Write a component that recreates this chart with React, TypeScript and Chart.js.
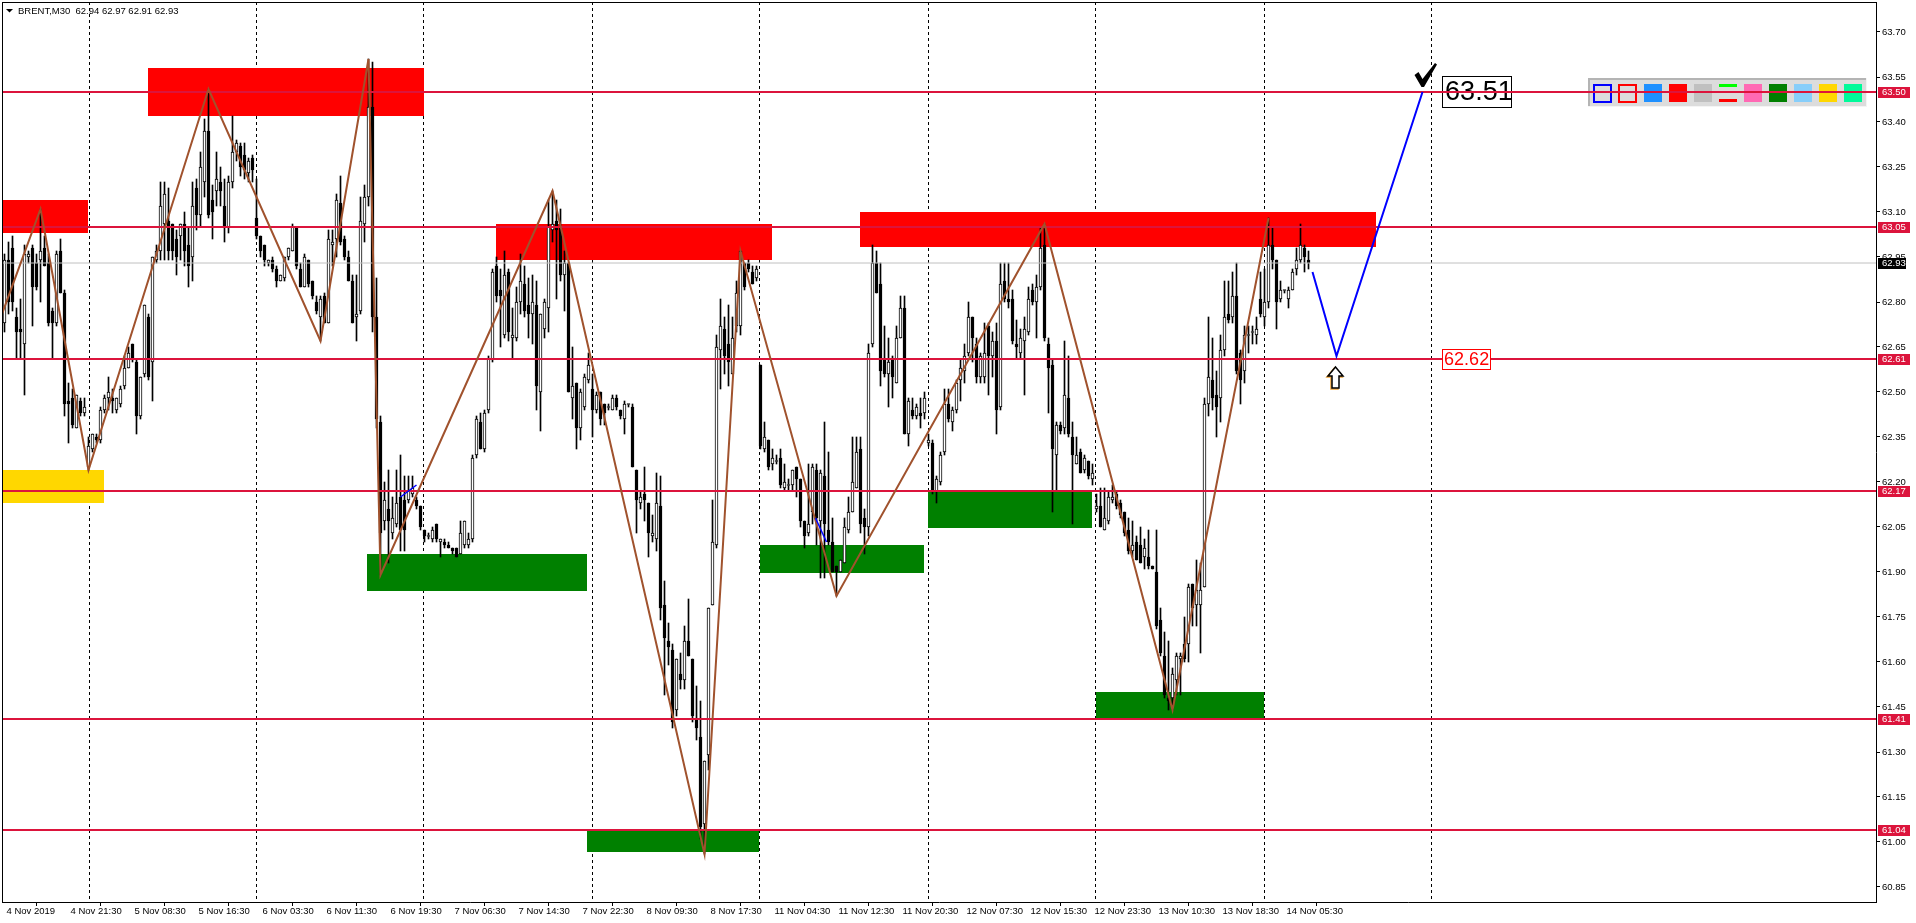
import React, { useEffect, useRef } from "react";
import { Chart, registerables } from "chart.js";
Chart.register(...registerables);

// ---- candles: [open, high, low, close] (BRENT M30) ----
const candlesA: number[][] = [
  [62.73, 62.96, 62.70, 62.94], [62.94, 63.00, 62.76, 62.80], [62.98, 63.02, 62.77, 62.80], [62.75, 62.78, 62.61, 62.70],
  [62.71, 62.81, 62.61, 62.70], [62.66, 62.99, 62.49, 62.96], [62.95, 62.97, 62.93, 62.96], [62.98, 62.99, 62.72, 62.85],
  [62.93, 62.96, 62.84, 62.85], [62.94, 63.11, 62.80, 62.97], [62.98, 63.02, 62.92, 62.92], [62.93, 62.96, 62.72, 62.73],
  [62.77, 62.78, 62.61, 62.73], [62.73, 62.97, 62.72, 62.96], [62.97, 63.01, 62.83, 62.83], [62.83, 62.84, 62.42, 62.46],
  [62.47, 62.53, 62.33, 62.46], [62.48, 62.51, 62.38, 62.39], [62.38, 62.49, 62.38, 62.49], [62.47, 62.48, 62.42, 62.43],
  [62.43, 62.48, 62.42, 62.45], [62.25, 62.35, 62.24, 62.32], [62.31, 62.36, 62.30, 62.36], [62.35, 62.36, 62.33, 62.34],
  [62.34, 62.45, 62.33, 62.44], [62.44, 62.49, 62.43, 62.48], [62.48, 62.55, 62.44, 62.50], [62.48, 62.51, 62.43, 62.47],
  [62.44, 62.48, 62.43, 62.48], [62.46, 62.52, 62.45, 62.51], [62.52, 62.62, 62.51, 62.58], [62.58, 62.65, 62.58, 62.63],
  [62.66, 62.66, 62.60, 62.61], [62.60, 62.61, 62.36, 62.42], [62.42, 62.55, 62.41, 62.55], [62.56, 62.79, 62.55, 62.79],
  [62.75, 62.76, 62.54, 62.55], [62.60, 62.95, 62.47, 62.95], [62.94, 62.99, 62.93, 62.97], [62.97, 63.20, 62.94, 63.12],
  [63.06, 63.20, 62.94, 63.16], [63.07, 63.18, 62.94, 62.97], [63.06, 63.06, 62.94, 62.97], [63.01, 63.04, 62.89, 62.95],
  [63.02, 63.06, 62.94, 63.06], [63.06, 63.10, 62.92, 62.97], [62.99, 63.05, 62.85, 62.92], [62.95, 63.20, 62.87, 63.12],
  [63.18, 63.21, 63.04, 63.09], [63.09, 63.30, 63.05, 63.25], [63.20, 63.41, 63.15, 63.37], [63.37, 63.51, 63.08, 63.09],
  [63.14, 63.19, 63.01, 63.10], [63.17, 63.30, 63.12, 63.21], [63.20, 63.25, 63.12, 63.17], [63.12, 63.21, 63.00, 63.05],
  [63.05, 63.22, 63.03, 63.20], [63.20, 63.42, 63.18, 63.30], [63.30, 63.34, 63.27, 63.33], [63.32, 63.33, 63.22, 63.25],
  [63.29, 63.33, 63.21, 63.24], [63.23, 63.28, 63.20, 63.27], [63.28, 63.29, 63.20, 63.24],
];
const candlesB: number[][] = [
  [63.08, 63.21, 63.01, 63.02], [63.02, 63.02, 62.95, 62.97], [62.99, 62.99, 62.92, 62.94], [62.93, 62.94, 62.92, 62.94],
  [62.94, 62.95, 62.90, 62.91], [62.91, 62.92, 62.85, 62.87], [62.87, 62.89, 62.87, 62.89], [62.88, 62.95, 62.87, 62.95],
  [62.95, 62.98, 62.94, 62.98], [62.97, 63.06, 62.97, 63.05], [63.05, 63.05, 62.91, 62.92], [62.91, 62.93, 62.85, 62.85],
  [62.85, 62.96, 62.85, 62.95], [62.94, 62.94, 62.85, 62.86], [62.87, 62.87, 62.81, 62.82], [62.80, 62.82, 62.76, 62.77],
  [62.75, 62.82, 62.67, 62.81], [62.82, 62.83, 62.73, 62.73], [62.73, 63.04, 62.73, 63.01], [62.99, 63.04, 62.92, 63.00],
  [63.01, 63.16, 62.95, 63.14], [63.13, 63.22, 62.99, 63.00], [63.01, 63.02, 62.94, 62.95], [62.95, 62.97, 62.87, 62.87],
  [62.87, 62.89, 62.73, 62.73], [62.75, 62.89, 62.67, 62.76], [62.77, 63.15, 62.76, 63.07], [63.06, 63.19, 63.00, 63.15],
  [63.15, 63.61, 63.12, 63.45], [63.45, 63.60, 62.70, 62.75], [62.75, 62.88, 62.38, 62.41], [62.40, 62.42, 61.89, 62.03],
  [62.07, 62.20, 62.04, 62.14], [62.11, 62.24, 61.93, 62.07], [62.03, 62.15, 62.01, 62.08], [62.06, 62.24, 62.05, 62.13],
  [62.15, 62.29, 61.97, 62.04], [62.14, 62.22, 61.97, 62.04], [62.14, 62.22, 62.13, 62.17], [62.16, 62.22, 62.15, 62.18],
  [62.14, 62.15, 62.11, 62.12], [62.12, 62.12, 62.04, 62.05], [62.04, 62.04, 62.00, 62.02], [62.02, 62.03, 62.01, 62.02],
  [62.01, 62.05, 62.00, 62.04], [62.06, 62.06, 62.00, 62.01], [62.00, 62.01, 61.95, 62.01], [62.00, 62.01, 61.98, 61.99],
  [61.99, 62.00, 61.98, 61.98], [61.98, 61.98, 61.96, 61.97], [61.98, 61.98, 61.95, 61.95], [61.96, 62.07, 61.96, 62.03],
  [61.99, 62.07, 61.98, 62.07], [61.99, 62.03, 61.98, 62.01], [62.01, 62.29, 62.00, 62.28], [62.29, 62.42, 62.28, 62.41],
  [62.40, 62.43, 62.31, 62.31],
];
const candlesC: number[][] = [
  [62.31, 62.44, 62.30, 62.43], [62.44, 62.62, 62.43, 62.61], [62.61, 62.91, 62.60, 62.90], [62.92, 62.95, 62.80, 62.82],
  [62.84, 62.91, 62.65, 62.82], [62.69, 62.97, 62.68, 62.89], [62.90, 62.91, 62.67, 62.70], [62.68, 62.78, 62.61, 62.69],
  [62.68, 62.85, 62.67, 62.80], [62.80, 62.96, 62.76, 62.87], [62.86, 62.92, 62.75, 62.77], [62.79, 62.88, 62.68, 62.76],
  [62.76, 62.89, 62.66, 62.80], [62.79, 62.87, 62.44, 62.52], [62.50, 62.76, 62.37, 62.76], [62.71, 62.81, 62.68, 62.80],
  [62.78, 63.14, 62.70, 63.05], [63.04, 63.17, 63.00, 63.06], [63.07, 63.14, 62.81, 63.04], [63.05, 63.11, 62.87, 62.89],
  [62.89, 62.97, 62.77, 62.93], [62.93, 62.93, 62.50, 62.50], [62.48, 62.65, 62.41, 62.52], [62.53, 62.53, 62.31, 62.38],
  [62.38, 62.51, 62.34, 62.50], [62.45, 62.56, 62.44, 62.55], [62.54, 62.63, 62.53, 62.59], [62.51, 62.56, 62.35, 62.44],
  [62.44, 62.50, 62.43, 62.49], [62.50, 62.50, 62.39, 62.41], [62.46, 62.46, 62.39, 62.43], [62.45, 62.46, 62.44, 62.45],
  [62.44, 62.49, 62.44, 62.48], [62.48, 62.49, 62.44, 62.45], [62.44, 62.44, 62.41, 62.42], [62.41, 62.47, 62.36, 62.46],
  [62.46, 62.46, 62.45, 62.46], [62.45, 62.46, 62.25, 62.25], [62.24, 62.24, 62.03, 62.14], [62.13, 62.17, 62.11, 62.15],
  [62.16, 62.25, 62.07, 62.14], [62.13, 62.13, 61.95, 62.03], [62.02, 62.09, 62.00, 62.03], [62.01, 62.23, 61.97, 62.13],
  [62.12, 62.22, 61.74, 61.78], [61.79, 61.87, 61.49, 61.68], [61.67, 61.73, 61.59, 61.65], [61.64, 61.66, 61.38, 61.40],
  [61.44, 61.61, 61.42, 61.61], [61.56, 61.63, 61.51, 61.54], [61.54, 61.72, 61.51, 61.67], [61.67, 61.81, 61.62, 61.62],
  [61.61, 61.61, 61.40, 61.42], [61.41, 61.52, 61.34, 61.38], [61.35, 61.47, 61.01, 61.05], [61.06, 61.27, 60.96, 61.27],
  [61.29, 61.78, 61.24, 61.78], [61.79, 62.14, 61.79, 62.00], [61.99, 62.69, 61.98, 62.65], [62.64, 62.81, 62.51, 62.72],
  [62.71, 62.75, 62.56, 62.62], [62.66, 62.79, 62.52, 62.60], [62.56, 62.75, 62.56, 62.68], [62.72, 62.87, 62.70, 62.83],
  [62.72, 62.97, 62.69, 62.97], [62.93, 62.93, 62.84, 62.85], [62.93, 62.94, 62.90, 62.91], [62.90, 62.92, 62.86, 62.86],
  [62.88, 62.92, 62.87, 62.91],
];
const candlesD: number[][] = [
  [62.59, 62.59, 62.31, 62.32], [62.31, 62.40, 62.30, 62.35], [62.34, 62.34, 62.24, 62.25], [62.26, 62.31, 62.24, 62.28],
  [62.27, 62.29, 62.26, 62.27], [62.28, 62.31, 62.18, 62.19], [62.18, 62.26, 62.17, 62.20], [62.19, 62.21, 62.17, 62.19],
  [62.19, 62.24, 62.17, 62.24], [62.25, 62.25, 62.15, 62.21], [62.21, 62.21, 62.05, 62.07], [62.07, 62.07, 61.98, 62.02],
  [62.03, 62.26, 62.02, 62.06], [62.10, 62.26, 62.06, 62.25], [62.24, 62.26, 61.99, 62.08], [62.07, 62.24, 61.88, 62.23],
  [62.22, 62.40, 61.88, 62.06], [62.04, 62.30, 61.99, 62.00], [62.00, 62.08, 61.90, 61.90], [61.92, 61.92, 61.82, 61.90],
  [61.90, 61.94, 61.90, 61.94], [61.93, 62.08, 61.93, 62.05], [62.04, 62.15, 62.03, 62.10], [62.10, 62.35, 62.10, 62.20],
  [62.18, 62.35, 62.18, 62.30], [62.31, 62.35, 62.03, 62.06], [62.08, 62.11, 61.96, 62.05], [62.05, 62.66, 62.02, 62.63],
  [62.66, 62.99, 62.65, 62.93], [62.93, 62.97, 62.83, 62.83], [62.86, 62.93, 62.52, 62.57], [62.61, 62.72, 62.55, 62.56],
  [62.56, 62.68, 62.45, 62.60], [62.61, 62.62, 62.48, 62.55], [62.53, 62.72, 62.53, 62.68], [62.68, 62.82, 62.68, 62.78],
  [62.78, 62.82, 62.36, 62.36], [62.36, 62.48, 62.32, 62.47], [62.44, 62.48, 62.41, 62.42], [62.42, 62.46, 62.41, 62.45],
  [62.43, 62.48, 62.38, 62.42], [62.43, 62.50, 62.41, 62.48], [62.33, 62.36, 62.32, 62.34], [62.33, 62.34, 62.16, 62.17],
  [62.17, 62.22, 62.13, 62.21], [62.20, 62.30, 62.19, 62.29], [62.30, 62.51, 62.29, 62.46], [62.46, 62.51, 62.40, 62.41],
  [62.40, 62.45, 62.37, 62.44], [62.44, 62.54, 62.43, 62.53], [62.54, 62.61, 62.47, 62.58], [62.57, 62.66, 62.53, 62.62],
  [62.63, 62.80, 62.62, 62.75], [62.75, 62.75, 62.60, 62.68], [62.66, 62.68, 62.53, 62.55], [62.55, 62.63, 62.53, 62.62],
  [62.55, 62.73, 62.53, 62.63], [62.72, 62.73, 62.49, 62.62], [62.62, 62.70, 62.55, 62.67], [62.67, 62.73, 62.36, 62.44],
  [62.45, 62.93, 62.44, 62.86], [62.87, 62.93, 62.80, 62.81], [62.81, 62.93, 62.78, 62.80], [62.81, 62.84, 62.66, 62.67],
  [62.66, 62.74, 62.61, 62.65], [62.63, 62.71, 62.61, 62.68], [62.67, 62.75, 62.49, 62.71], [62.70, 62.85, 62.69, 62.81],
  [62.84, 62.86, 62.79, 62.80], [62.80, 62.89, 62.68, 62.85], [62.85, 63.05, 62.84, 62.98], [62.99, 63.06, 62.67, 62.68],
  [62.66, 62.68, 62.43, 62.58], [62.59, 62.61, 62.10, 62.31], [62.29, 62.40, 62.17, 62.39], [62.39, 62.40, 62.36, 62.37],
  [62.38, 62.67, 62.36, 62.49], [62.48, 62.62, 62.35, 62.36], [62.35, 62.40, 62.06, 62.29], [62.26, 62.35, 62.26, 62.29],
  [62.30, 62.31, 62.23, 62.23], [62.24, 62.29, 62.23, 62.28], [62.27, 62.27, 62.21, 62.22], [62.21, 62.26, 62.19, 62.23],
  [62.11, 62.16, 62.10, 62.12], [62.12, 62.18, 62.05, 62.05], [62.04, 62.18, 62.04, 62.08], [62.07, 62.17, 62.06, 62.15],
  [62.14, 62.19, 62.13, 62.15], [62.16, 62.17, 62.11, 62.12], [62.13, 62.14, 62.08, 62.09], [62.10, 62.10, 62.02, 62.03],
  [62.04, 62.08, 61.96, 61.97], [61.97, 62.07, 61.95, 61.99], [62.00, 62.02, 61.94, 61.94], [61.99, 62.05, 61.93, 61.93],
  [61.95, 62.01, 61.91, 61.98], [61.95, 62.04, 61.91, 61.92], [61.92, 61.92, 61.91, 61.91], [61.90, 62.04, 61.71, 61.72],
  [61.74, 61.78, 61.62, 61.63], [61.62, 61.70, 61.48, 61.49], [61.48, 61.67, 61.44, 61.47], [61.48, 61.58, 61.44, 61.56],
  [61.54, 61.63, 61.49, 61.62], [61.61, 61.63, 61.49, 61.62], [61.66, 61.75, 61.60, 61.61], [61.66, 61.86, 61.60, 61.85],
  [61.86, 61.86, 61.72, 61.78], [61.79, 61.94, 61.72, 61.84], [61.79, 61.93, 61.63, 61.84], [61.85, 62.48, 61.85, 62.46],
  [62.46, 62.75, 62.42, 62.55], [62.54, 62.68, 62.44, 62.48], [62.49, 62.57, 62.35, 62.45], [62.48, 62.69, 62.40, 62.64],
  [62.64, 62.87, 62.62, 62.75], [62.76, 62.87, 62.73, 62.74], [62.75, 62.90, 62.73, 62.82], [62.82, 62.93, 62.56, 62.57],
  [62.63, 62.64, 62.46, 62.54], [62.57, 62.72, 62.53, 62.69], [62.69, 62.72, 62.63, 62.69], [62.70, 62.72, 62.66, 62.70],
  [62.69, 62.75, 62.66, 62.71], [62.81, 62.90, 62.75, 62.76], [62.75, 62.91, 62.72, 62.80], [62.80, 63.08, 62.78, 62.99],
  [62.99, 63.05, 62.91, 62.94], [62.94, 62.94, 62.71, 62.80], [62.81, 62.87, 62.80, 62.84], [62.84, 62.84, 62.83, 62.84],
  [62.81, 62.85, 62.78, 62.84], [62.84, 62.91, 62.84, 62.90], [62.91, 62.98, 62.89, 62.94], [62.94, 63.06, 62.93, 62.99],
  [62.98, 62.99, 62.90, 62.95], [62.94, 62.97, 62.91, 62.93],
];

// ---- axes ----
const yMin = 60.8;
const yMax = 63.8;
const priceTicks = [63.70, 63.55, 63.40, 63.25, 63.10, 62.95, 62.80, 62.65, 62.50, 62.35, 62.20, 62.05, 61.90, 61.75, 61.60, 61.45, 61.30, 61.15, 61.00, 60.85];
const timeTickBars = [0, 16, 32, 48, 64, 80, 96, 112, 128, 144, 160, 176, 192, 208, 224, 240, 256, 272, 288, 304, 320];
const timeLabels = ["4 Nov 2019", "4 Nov 21:30", "5 Nov 08:30", "5 Nov 16:30", "6 Nov 03:30", "6 Nov 11:30", "6 Nov 19:30", "7 Nov 06:30", "7 Nov 14:30", "7 Nov 22:30", "8 Nov 09:30", "8 Nov 17:30", "11 Nov 04:30", "11 Nov 12:30", "11 Nov 20:30", "12 Nov 07:30", "12 Nov 15:30", "12 Nov 23:30", "13 Nov 10:30", "13 Nov 18:30", "14 Nov 05:30"];
const gridBars = [21, 62.85, 104.7, 146.85, 188.7, 230.85, 272.7, 314.85, 356.7];

// ---- objects ----
const levels = [63.50, 63.05, 62.61, 62.17, 61.41, 61.04];
const bidPrice = 62.93;
const headerText = "BRENT,M30  62.94 62.97 62.91 62.93";
// zones: [startBar, endBar, top, bottom]
const redZones = [[-2, 20.8, 63.14, 63.03], [35.75, 104.7, 63.58, 63.42], [122.75, 191.7, 63.06, 62.94], [213.75, 342.65, 63.10, 62.985]];
const greenZones = [[90.65, 145.7, 61.96, 61.835], [145.7, 188.7, 61.04, 60.965], [188.8, 229.7, 61.99, 61.895], [230.8, 271.7, 62.165, 62.045], [272.8, 314.8, 61.50, 61.415]];
const goldZones = [[-2, 24.75, 62.24, 62.13]];
const zigzag = [[-2, 62.71], [9, 63.11], [21, 62.24], [51, 63.51], [79, 62.67], [91, 63.61], [94, 61.89], [137, 63.17], [175, 60.96], [184, 62.97], [208, 61.82], [260, 63.06], [292, 61.44], [316, 63.08]];
const miniLegs = [[[99, 62.15], [103, 62.19]], [[202.75, 62.08], [205.5, 62.0]]];
const projection = [[327, 62.90], [333, 62.62], [354.5, 63.50]];
const targetText = "63.51";
const pullbackText = "62.62";
const labelBar = 359.4;
const paletteColors = ["#1E90FF", "#FF0000", "#C0C0C0", "LINES", "#FF69B4", "#008000", "#87CEFA", "#FFD700", "#00FA9A"];

const candles = [...candlesA, ...candlesB, ...candlesC, ...candlesD];
const FONT = "'Liberation Sans', Arial, sans-serif";

export default function App() {
  const ref = useRef<HTMLCanvasElement>(null);
  useEffect(() => {
    const canvas = ref.current;
    if (!canvas) return;
    const xMin = -0.625;
    const xMax = xMin + 1874 / 4;

    const wickData = candles.map((c, i) => ({ x: i, y: [c[2], c[1]] }));
    const bodyData = candles.map((c, i) => {
      let lo = Math.min(c[0], c[3]);
      let hi = Math.max(c[0], c[3]);
      if (hi - lo < 0.0034) {
        const m = (hi + lo) / 2;
        lo = m - 0.0017;
        hi = m + 0.0017;
      }
      return { x: i, y: [lo, hi] };
    });
    const bodyColors = candles.map((c) => (c[3] >= c[0] ? "#ffffff" : "#000000"));

    const lineDs = (pts: number[][], color: string, width: number, order: number) => ({
      type: "line" as const,
      data: pts.map((p) => ({ x: p[0], y: p[1] })),
      borderColor: color,
      borderWidth: width,
      pointRadius: 0,
      tension: 0,
      fill: false,
      order,
      clip: 0,
    });

    const datasets: any[] = [
      {
        type: "bar",
        data: wickData,
        backgroundColor: "#000000",
        borderWidth: 0,
        barThickness: 1,
        grouped: false,
        order: 10,
      },
      {
        type: "bar",
        data: bodyData,
        backgroundColor: bodyColors,
        borderColor: "#000000",
        borderWidth: 1,
        borderSkipped: false,
        barThickness: 3,
        grouped: false,
        order: 9,
      },
      lineDs([[xMin - 1, bidPrice], [xMax + 1, bidPrice]], "#C0C0C0", 1, 8),
      ...levels.map((L) => lineDs([[xMin - 1, L], [xMax + 1, L]], "#DC143C", 2, 7)),
      lineDs(zigzag, "#A0522D", 2, 5),
      ...miniLegs.map((leg) => lineDs(leg, "#0000FF", 1.5, 4)),
      lineDs(projection, "#0000FF", 2, 3),
    ];

    const bgPlugin = {
      id: "bgPlugin",
      beforeDatasetsDraw(chart: any) {
        const { ctx, chartArea: a, scales } = chart;
        const xs = scales.x;
        const ys = scales.y;
        ctx.save();
        ctx.beginPath();
        ctx.rect(a.left, a.top, a.right - a.left, a.bottom - a.top);
        ctx.clip();
        // dashed vertical grid
        ctx.strokeStyle = "#000000";
        ctx.lineWidth = 1;
        ctx.setLineDash([3, 3]);
        gridBars.forEach((g) => {
          const px = Math.round(xs.getPixelForValue(g)) + 0.5;
          ctx.beginPath();
          ctx.moveTo(px, a.top);
          ctx.lineTo(px, a.bottom);
          ctx.stroke();
        });
        ctx.setLineDash([]);
        // zones
        const drawZones = (zs: number[][], color: string) => {
          ctx.fillStyle = color;
          zs.forEach((z) => {
            const x0 = xs.getPixelForValue(z[0]);
            const x1 = xs.getPixelForValue(z[1]);
            const y0 = ys.getPixelForValue(z[2]);
            const y1 = ys.getPixelForValue(z[3]);
            ctx.fillRect(Math.round(x0), Math.round(y0), Math.round(x1 - x0), Math.round(y1 - y0));
          });
        };
        drawZones(redZones, "#FF0000");
        drawZones(greenZones, "#008000");
        drawZones(goldZones, "#FFD700");

        // palette widget
        const px0 = 1588, py0 = 78, pw = 279, ph = 29;
        ctx.fillStyle = "#DCDCDC";
        ctx.fillRect(px0, py0, pw, ph);
        ctx.fillStyle = "#B4B4B4";
        ctx.fillRect(px0, py0, pw, 2);
        ctx.fillRect(px0, py0, 2, ph);
        ctx.fillStyle = "#F4F4F4";
        ctx.fillRect(px0, py0 + ph - 1, pw, 1);
        ctx.fillRect(px0 + pw - 1, py0, 1, ph);
        const sq = 18;
        const sy = 84;
        ctx.lineWidth = 2;
        ctx.strokeStyle = "#0000FF";
        ctx.strokeRect(1594, sy + 1, sq - 1, sq - 1);
        ctx.strokeStyle = "#FF0000";
        ctx.strokeRect(1619, sy + 1, sq - 1, sq - 1);
        paletteColors.forEach((c, i) => {
          const x = 1644 + i * 25;
          if (c === "LINES") {
            ctx.fillStyle = "#00FF00";
            ctx.fillRect(x, sy, sq, 3);
            ctx.fillStyle = "#FF0000";
            ctx.fillRect(x, sy + 15, sq, 3);
          } else {
            ctx.fillStyle = c;
            ctx.fillRect(x, sy, sq, sq);
          }
        });

        // target label box
        const tEnd = projection[projection.length - 1];
        const lx = xs.getPixelForValue(labelBar);
        const ty = ys.getPixelForValue(tEnd[1]);
        ctx.fillStyle = "#ffffff";
        ctx.fillRect(lx, ty - 16, 70, 32);
        ctx.strokeStyle = "#000000";
        ctx.lineWidth = 1;
        ctx.strokeRect(Math.round(lx) + 0.5, Math.round(ty - 16) + 0.5, 69, 31);
        ctx.fillStyle = "#000000";
        ctx.font = `27px ${FONT}`;
        ctx.textBaseline = "middle";
        ctx.textAlign = "left";
        ctx.fillText(targetText, lx + 3, ty + 1);
        ctx.restore();
      },
      afterDatasetsDraw(chart: any) {
        const { ctx, scales } = chart;
        const xs = scales.x;
        const ys = scales.y;
        ctx.save();
        // check mark (heavy tick)
        const tEnd = projection[projection.length - 1];
        const cx = xs.getPixelForValue(tEnd[0]) + 4;
        const cy = ys.getPixelForValue(tEnd[1]);
        const tick = [[-12, -17], [-8, -20], [-4, -13], [8.5, -29], [10.5, -27.5], [-2.5, -5], [-5, -5]];
        ctx.fillStyle = "#000000";
        ctx.beginPath();
        tick.forEach((p, i) => (i === 0 ? ctx.moveTo(cx + p[0], cy + p[1]) : ctx.lineTo(cx + p[0], cy + p[1])));
        ctx.closePath();
        ctx.fill();

        // pullback label
        const pb = projection[1];
        const lx = xs.getPixelForValue(labelBar);
        const py = ys.getPixelForValue(levels[2]);
        ctx.fillStyle = "#ffffff";
        ctx.fillRect(lx, py - 10, 48, 20);
        ctx.strokeStyle = "#FF0000";
        ctx.lineWidth = 1;
        ctx.strokeRect(Math.round(lx) + 0.5, Math.round(py - 10) + 0.5, 48, 20);
        ctx.fillStyle = "#FF0000";
        ctx.font = `18px ${FONT}`;
        ctx.textAlign = "left";
        ctx.textBaseline = "middle";
        ctx.fillText(pullbackText, lx + 2, py + 1);

        // up arrow
        const ax = xs.getPixelForValue(pb[0]) - 1;
        const ay = ys.getPixelForValue(pb[1]) + 11;
        const arrow = (ox: number, oy: number) => {
          ctx.beginPath();
          ctx.moveTo(ax + ox, ay + oy);
          ctx.lineTo(ax + ox + 7.5, ay + oy + 9);
          ctx.lineTo(ax + ox + 3.5, ay + oy + 9);
          ctx.lineTo(ax + ox + 3.5, ay + oy + 21);
          ctx.lineTo(ax + ox - 3.5, ay + oy + 21);
          ctx.lineTo(ax + ox - 3.5, ay + oy + 9);
          ctx.lineTo(ax + ox - 7.5, ay + oy + 9);
          ctx.closePath();
        };
        ctx.lineWidth = 1.5;
        arrow(-1, 1);
        ctx.strokeStyle = "#F0A030";
        ctx.stroke();
        arrow(0, 0);
        ctx.fillStyle = "#ffffff";
        ctx.fill();
        ctx.strokeStyle = "#000000";
        ctx.stroke();
        ctx.restore();
      },
      afterDraw(chart: any) {
        const { ctx, chartArea: a, scales } = chart;
        const ys = scales.y;
        ctx.save();
        // frame left & top
        ctx.fillStyle = "#000000";
        ctx.fillRect(a.left, a.top, a.right - a.left + 1, 1);
        ctx.fillRect(a.left, a.top, 1, a.bottom - a.top + 1);
        // level labels on price axis
        ctx.font = `9.5px ${FONT}`;
        ctx.textAlign = "left";
        ctx.textBaseline = "middle";
        levels.forEach((L) => {
          const y = Math.round(ys.getPixelForValue(L));
          ctx.fillStyle = "#DC143C";
          ctx.fillRect(a.right + 2, y - 5, 32, 11);
          ctx.fillStyle = "#ffffff";
          ctx.fillText(L.toFixed(2), a.right + 6, y + 0.5);
        });
        const by = Math.round(ys.getPixelForValue(bidPrice));
        ctx.fillStyle = "#000000";
        ctx.fillRect(a.right + 2, by - 5, 28, 11);
        ctx.fillStyle = "#ffffff";
        ctx.fillText(bidPrice.toFixed(2), a.right + 6, by + 0.5);
        // header
        ctx.fillStyle = "#000000";
        ctx.beginPath();
        ctx.moveTo(6, 9);
        ctx.lineTo(13, 9);
        ctx.lineTo(9.5, 12.5);
        ctx.closePath();
        ctx.fill();
        ctx.font = `9.5px ${FONT}`;
        ctx.fillText(headerText, 18, 11);
        ctx.restore();
      },
    };

    const chart = new Chart(canvas, {
      type: "bar",
      data: { datasets },
      options: {
        animation: false,
        responsive: false,
        devicePixelRatio: 1,
        layout: { padding: { left: 2, top: 2, right: 0, bottom: 0 } },
        plugins: { legend: { display: false }, tooltip: { enabled: false } },
        events: [],
        scales: {
          x: {
            type: "linear",
            min: xMin,
            max: xMax,
            offset: false,
            position: "bottom",
            afterBuildTicks: (s: any) => {
              s.ticks = timeTickBars.map((v) => ({ value: v }));
            },
            afterFit: (s: any) => {
              s.height = 21;
              s.paddingLeft = 0;
              s.paddingRight = 0;
              s.paddingTop = 0;
              s.paddingBottom = 0;
            },
            grid: { display: true, drawOnChartArea: false, drawTicks: true, tickLength: 4, color: "#000000", tickColor: "#000000" },
            border: { display: true, color: "#000000", width: 1 },
            ticks: {
              autoSkip: false,
              maxRotation: 0,
              minRotation: 0,
              align: "start",
              labelOffset: 2,
              padding: 0,
              color: "#000000",
              font: { family: FONT, size: 9.5 },
              callback: (_v: any, i: number) => timeLabels[i],
            },
          },
          y: {
            type: "linear",
            position: "right",
            min: yMin,
            max: yMax,
            afterBuildTicks: (s: any) => {
              s.ticks = priceTicks.map((v) => ({ value: v }));
            },
            afterFit: (s: any) => {
              s.width = 40;
              s.paddingTop = 0;
              s.paddingBottom = 0;
              s.paddingLeft = 0;
              s.paddingRight = 0;
            },
            grid: { display: true, drawOnChartArea: false, drawTicks: true, tickLength: 4, color: "#000000", tickColor: "#000000" },
            border: { display: true, color: "#000000", width: 1 },
            ticks: {
              autoSkip: false,
              padding: 2,
              color: "#000000",
              font: { family: FONT, size: 9.5 },
              callback: (v: any) => Number(v).toFixed(2),
            },
          },
        },
      },
      plugins: [bgPlugin],
    } as any);
    return () => chart.destroy();
  }, []);

  return (
    <div style={{ position: "fixed", left: 0, top: 0, width: 1916, height: 923, background: "#ffffff" }}>
      <canvas ref={ref} width={1916} height={923} style={{ display: "block", width: 1916, height: 923 }} />
    </div>
  );
}
